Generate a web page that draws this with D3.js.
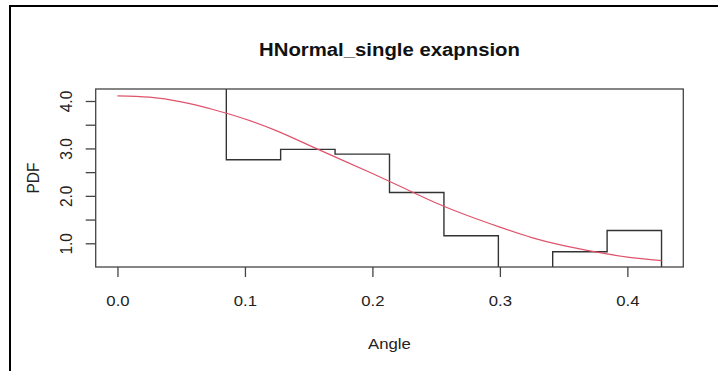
<!DOCTYPE html>
<html>
<head>
<meta charset="utf-8">
<script src="https://cdn.jsdelivr.net/npm/d3@7"></script>
<style>
  body { margin: 0; background: #fff; }
  svg { display: block; }
</style>
</head>
<body>
<div id="chart"></div>
<script>
// histogram bins (left edges + last right edge) and densities
const breaks = [0.0427, 0.0854, 0.1280, 0.1707, 0.2134, 0.2561, 0.2988, 0.3414, 0.3841, 0.4268];
const density = [9.5, 2.76, 2.98, 2.88, 2.07, 1.16, 0, 0.82, 1.27];

// fitted pdf
const curveX = [0, 0.025, 0.05, 0.075, 0.1, 0.125, 0.15, 0.175, 0.2, 0.225, 0.25, 0.275, 0.3, 0.325, 0.35, 0.375, 0.4, 0.4268];
const curveY = [4.11, 4.08, 3.98, 3.82, 3.62, 3.37, 3.07, 2.77, 2.47, 2.16, 1.85, 1.58, 1.34, 1.12, 0.95, 0.82, 0.71, 0.635];

const xTicks = [0, 0.1, 0.2, 0.3, 0.4];
const yTicks = [1, 1.5, 2, 2.5, 3, 3.5, 4];
const yLabels = [1, 2, 3, 4];

const W = 718, H = 371;
const plot = {left: 95.7, right: 683.3, top: 89, bottom: 267};
const stretch = 1.08;   // source image is a bit wide
const fs = 15.5;

const svg = d3.select('#chart').append('svg')
    .attr('width', W)
    .attr('height', H);

// page frame (left and top only)
svg.append('line').attr('x1', 10).attr('x2', 10).attr('y1', 5).attr('y2', H)
    .attr('stroke', '#000').attr('stroke-width', 2);
svg.append('line').attr('x1', 9).attr('x2', W).attr('y1', 6).attr('y2', 6)
    .attr('stroke', '#000').attr('stroke-width', 2);

const x = d3.scaleLinear().domain([-0.01707, 0.44387]).range([plot.left, plot.right]);
const y = d3.scaleLinear().domain([0.5, 4.253]).range([plot.bottom, plot.top]);

svg.append('clipPath').attr('id', 'clip')
    .append('rect')
    .attr('x', plot.left).attr('y', plot.top)
    .attr('width', plot.right - plot.left).attr('height', plot.bottom - plot.top);

const fontFam = '"Liberation Sans", Arial, sans-serif';

// histogram as a step line
const steps = breaks.slice(0, -1).map((b, i) => [b, density[i]]);
steps.push([breaks[breaks.length - 1], density[density.length - 1]]);
steps.push([breaks[breaks.length - 1], 0]);

svg.append('path')
    .datum(steps)
    .attr('clip-path', 'url(#clip)')
    .attr('fill', 'none')
    .attr('stroke', '#333')
    .attr('stroke-width', 1.4)
    .attr('d', d3.line().x(d => x(d[0])).y(d => y(d[1])).curve(d3.curveStepAfter));

// fitted curve
svg.append('path')
    .datum(curveX.map((v, i) => [v, curveY[i]]))
    .attr('clip-path', 'url(#clip)')
    .attr('fill', 'none')
    .attr('stroke', '#DF536B')
    .attr('stroke-width', 1.2)
    .attr('d', d3.line().x(d => x(d[0])).y(d => y(d[1])).curve(d3.curveNatural));

// box
svg.append('rect')
    .attr('x', plot.left).attr('y', plot.top)
    .attr('width', plot.right - plot.left).attr('height', plot.bottom - plot.top)
    .attr('fill', 'none').attr('stroke', '#444').attr('stroke-width', 1.3);

// x axis
const gx = svg.append('g')
    .attr('transform', 'translate(0,' + plot.bottom + ')')
    .call(d3.axisBottom(x).tickValues(xTicks).tickSize(10).tickFormat(d3.format('.1f')));
gx.select('.domain').remove();
gx.selectAll('.tick line').attr('stroke', '#444').attr('stroke-width', 1.3);
gx.selectAll('.tick text')
    .attr('y', 0).attr('dy', 0)
    .attr('transform', 'translate(0,39) scale(' + stretch + ',1)')
    .attr('font-family', fontFam).attr('font-size', fs).attr('fill', '#222');

// y axis
const gy = svg.append('g')
    .attr('transform', 'translate(' + plot.left + ',0)')
    .call(d3.axisLeft(y).tickValues(yTicks).tickSize(10)
        .tickFormat(d => yLabels.includes(d) ? d3.format('.1f')(d) : ''));
gy.select('.domain').remove();
gy.selectAll('.tick line').attr('stroke', '#444').attr('stroke-width', 1.3);
gy.selectAll('.tick text')
    .attr('x', 0).attr('dy', 0)
    .attr('text-anchor', 'middle')
    .attr('transform', 'translate(-24,0) scale(' + stretch + ',1) rotate(-90)')
    .attr('font-family', fontFam).attr('font-size', fs).attr('fill', '#222');

// title and axis titles
svg.append('text')
    .attr('transform', 'translate(' + ((plot.left + plot.right) / 2) + ',56) scale(1.13,1)')
    .attr('text-anchor', 'middle')
    .attr('font-family', fontFam).attr('font-size', 18).attr('font-weight', 'bold')
    .attr('fill', '#111')
    .text('HNormal_single exapnsion');

svg.append('text')
    .attr('transform', 'translate(' + ((plot.left + plot.right) / 2) + ',349) scale(' + stretch + ',1)')
    .attr('text-anchor', 'middle')
    .attr('font-family', fontFam).attr('font-size', fs).attr('fill', '#222')
    .text('Angle');

svg.append('text')
    .attr('transform', 'translate(39,' + ((plot.top + plot.bottom) / 2) + ') scale(' + stretch + ',1) rotate(-90)')
    .attr('text-anchor', 'middle')
    .attr('font-family', fontFam).attr('font-size', fs).attr('fill', '#222')
    .text('PDF');
</script>
</body>
</html>
